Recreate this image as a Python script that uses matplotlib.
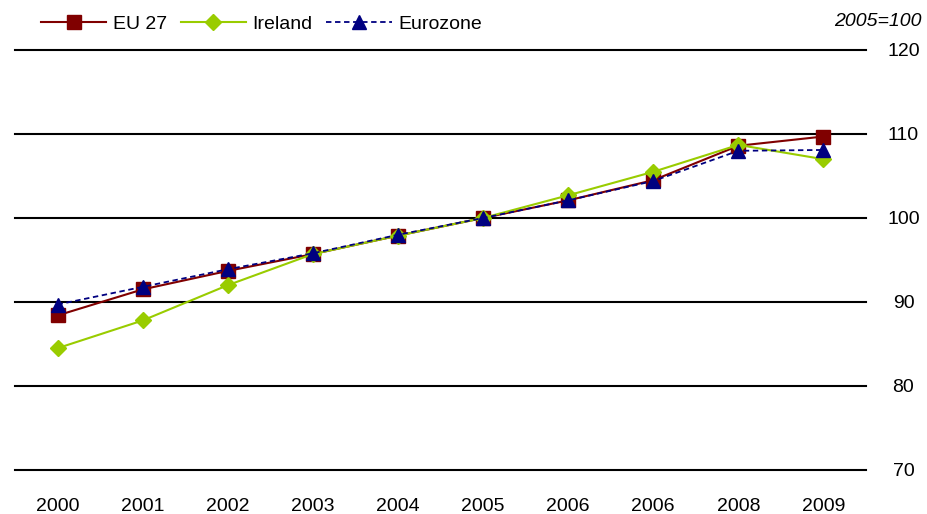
import numpy as np
import matplotlib.pyplot as plt

plt.rcParams['font.family'] = ['Liberation Sans', 'DejaVu Sans']

years = ["2000", "2001", "2002", "2003", "2004", "2005", "2006", "2006", "2008", "2009"]
eu27 = [88.4, 91.5, 93.7, 95.7, 97.9, 100.0, 102.1, 104.5, 108.6, 109.7]
ireland = [84.5, 87.8, 92.0, 95.7, 97.9, 100.0, 102.7, 105.5, 108.7, 107.0]
eurozone = [89.7, 91.8, 93.9, 95.8, 98.0, 100.0, 102.1, 104.4, 108.0, 108.1]

fig = plt.figure(figsize=(9.28, 5.14), dpi=100)
ax = fig.add_axes([15 / 928, 1 - 470 / 514, (866 - 15) / 928, 420 / 514])

x = np.arange(len(years))
ax.plot(x, eu27, color="#800000", lw=1.5, marker="s", ms=10, label="EU 27", zorder=3)
ax.plot(x, ireland, color="#99CC00", lw=1.5, marker="D", ms=8, label="Ireland", zorder=4)
ax.plot(x, eurozone, color="#000080", lw=1.3, ls=(0, (3, 2)), marker="^", ms=10,
        label="Eurozone", zorder=5)

ax.set_xlim(-0.5, len(years) - 0.5)
ax.set_ylim(70, 120)
ax.set_yticks([70, 80, 90, 100, 110, 120])
ax.set_xticks(x)
ax.set_xticklabels(years)
ax.yaxis.tick_right()
ax.grid(axis="y", color="black", lw=1.5)
for gl in ax.get_ygridlines():
    gl.set_clip_on(False)
ax.set_axisbelow(True)
for s in ax.spines.values():
    s.set_visible(False)
ax.tick_params(length=0, labelsize=14, pad=20)
ax.tick_params(axis="y", pad=27)
for lab in ax.get_yticklabels():
    lab.set_horizontalalignment("center")

ax.legend(loc="center left", bbox_to_anchor=(26 / 851, 1 + 26 / 420), ncol=3, frameon=False,
          fontsize=14, handlelength=3.35, columnspacing=0.7, handletextpad=0.35,
          borderaxespad=0.0, borderpad=0.0)
fig.text(922 / 928, 1 - 22 / 514, "2005=100", ha="right", va="center",
         fontsize=14, style="italic")

fig.savefig("out.png", dpi=100)
